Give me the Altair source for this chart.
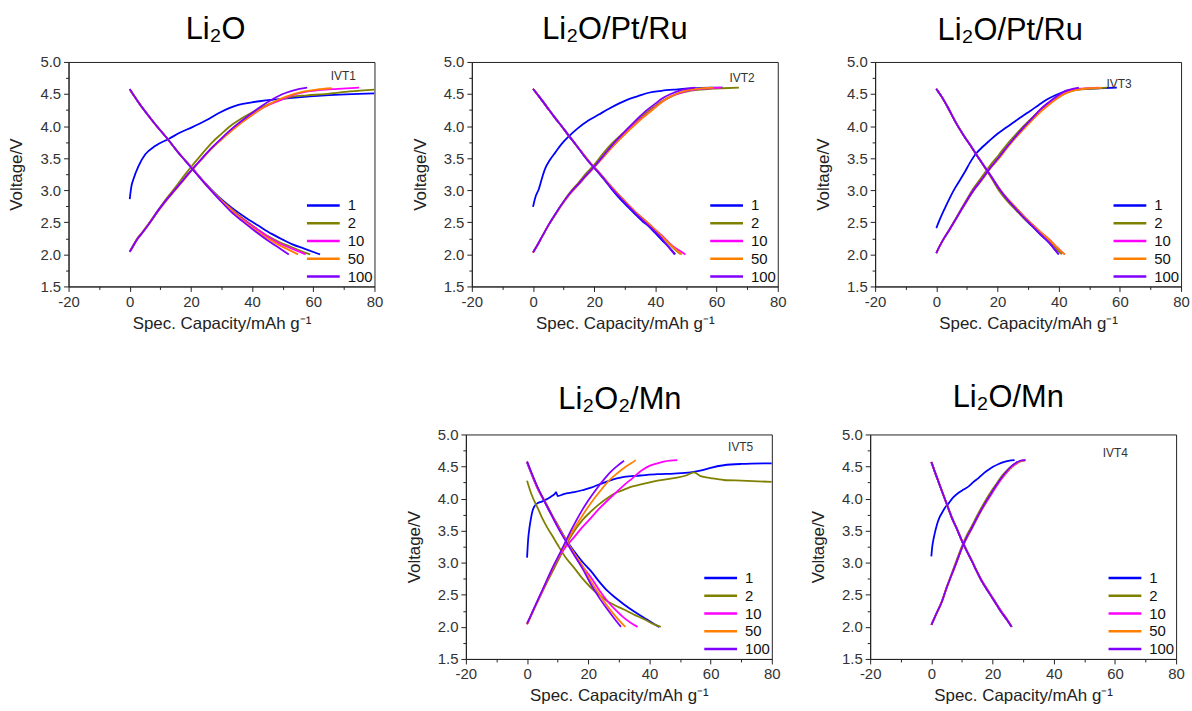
import altair as alt
import pandas as pd

FONT = "Liberation Sans"

CYCLE_LABELS = ["1", "2", "10", "50", "100"]
CYCLE_COLORS = ["#0000FF", "#808000", "#FF00FF", "#FF8000", "#8000FF"]

PANEL_TITLES = ["Li\u2082O", "Li\u2082O/Pt/Ru", "Li\u2082O/Pt/Ru", "Li\u2082O\u2082/Mn", "Li\u2082O/Mn"]
IVT_LABELS = ["IVT1", "IVT2", "IVT3", "IVT5", "IVT4"]
IVT_X = [65.7, 64.2, 55.6, 65.7, 56.0]
IVT_Y = [4.78, 4.75, 4.66, 4.81, 4.71]

X_TICKS = [-20, -10, 0, 10, 20, 30, 40, 50, 60, 70, 80]
Y_TICKS = [1.5, 1.75, 2.0, 2.25, 2.5, 2.75, 3.0, 3.25, 3.5, 3.75, 4.0, 4.25, 4.5, 4.75, 5.0]
X_TITLE = "Spec. Capacity/mAh g\u207b\u00b9"
Y_TITLE = "Voltage/V"

# ---------------- Panel 1: Li2O (IVT1) ----------------
P1_CHG_1 = [(0, 2.86), (0.5, 3.05), (1.2, 3.17), (2.9, 3.38), (5.1, 3.56), (8.3, 3.69), (12.7, 3.80), (16.5, 3.90),
            (20.3, 3.98), (25, 4.09), (29, 4.20), (32.5, 4.28), (35.5, 4.33), (39.9, 4.37), (46.4, 4.41), (53, 4.44),
            (63.9, 4.48), (80, 4.51)]
P1_CHG_2 = [(0, 2.04), (1, 2.13), (2.5, 2.25), (4, 2.34), (6.5, 2.50), (9.4, 2.70), (12, 2.87), (15, 3.05), (18, 3.24),
            (20.5, 3.39), (23.5, 3.56), (26.8, 3.74), (30, 3.88), (33.4, 4.02), (36.5, 4.12), (39.9, 4.21), (43, 4.29),
            (46.4, 4.36), (50, 4.42), (53, 4.46), (58, 4.48), (64, 4.50), (72, 4.54), (80, 4.57)]
P1_CHG_10 = [(0, 2.04), (1, 2.12), (2.5, 2.24), (4, 2.33), (6.5, 2.49), (9.4, 2.69), (12, 2.85), (15, 3.02), (18, 3.19),
             (20.5, 3.33), (23.5, 3.49), (26.8, 3.66), (30, 3.80), (33.4, 3.94), (36.5, 4.06), (39.9, 4.17), (43, 4.27),
             (46.4, 4.35), (50, 4.42), (53, 4.48), (57, 4.53), (62, 4.56), (68, 4.58), (75, 4.60)]
P1_CHG_50 = [(0, 2.04), (1, 2.12), (2.5, 2.24), (4, 2.33), (6.5, 2.49), (9.4, 2.68), (12, 2.84), (15, 3.01), (18, 3.18),
             (20.5, 3.32), (23.5, 3.48), (26.8, 3.65), (30, 3.79), (33.4, 3.93), (36.5, 4.05), (39.9, 4.17), (43, 4.27),
             (46.4, 4.36), (50, 4.44), (53, 4.49), (57, 4.54), (61, 4.57), (66, 4.59)]
P1_CHG_100 = [(0, 2.04), (1, 2.12), (2.5, 2.24), (4, 2.33), (6.5, 2.49), (9.4, 2.69), (12, 2.85), (15, 3.02),
              (18, 3.19), (20.5, 3.33), (23.5, 3.49), (26.8, 3.66), (30, 3.81), (33.4, 3.96), (36.5, 4.08),
              (39.9, 4.20), (43, 4.31), (46.4, 4.41), (50, 4.50), (53, 4.55), (55.5, 4.58), (58, 4.60)]
P1_DIS_1 = [(0, 4.57), (3, 4.36), (6, 4.17), (9, 3.99), (12.2, 3.81), (16, 3.58), (20.3, 3.35), (25, 3.09), (29, 2.90),
            (33, 2.74), (37.7, 2.58), (42, 2.45), (46.4, 2.32), (50, 2.23), (53, 2.16), (57, 2.09), (62.2, 2.00)]
P1_DIS_2 = [(0, 4.57), (3, 4.36), (6, 4.17), (9, 3.99), (12.2, 3.81), (16, 3.58), (20.3, 3.35), (25, 3.09), (29, 2.89),
            (33, 2.72), (37, 2.56), (41, 2.42), (45, 2.29), (49, 2.19), (53, 2.11), (56, 2.05), (59, 2.00)]
P1_DIS_10 = [(0, 4.57), (3, 4.36), (6, 4.17), (9, 3.99), (12.2, 3.81), (16, 3.58), (20.3, 3.35), (25, 3.09), (29, 2.88),
             (33, 2.71), (37, 2.55), (41, 2.41), (45, 2.28), (49, 2.17), (53, 2.09), (57.5, 2.00)]
P1_DIS_50 = [(0, 4.57), (3, 4.36), (6, 4.17), (9, 3.99), (12.2, 3.81), (16, 3.58), (20.3, 3.35), (25, 3.08), (29, 2.88),
             (33, 2.70), (37, 2.53), (41, 2.38), (45, 2.25), (49, 2.14), (52, 2.07), (55, 2.00)]
P1_DIS_100 = [(0, 4.58), (3, 4.36), (6, 4.17), (9, 3.99), (12.2, 3.81), (16, 3.58), (20.3, 3.34), (25, 3.08),
              (29, 2.87), (33, 2.67), (37, 2.51), (41, 2.36), (45, 2.22), (48.5, 2.11), (52, 2.00)]

# ---------------- Panel 2: Li2O/Pt/Ru (IVT2) ----------------
P2_CHG_1 = [(0, 2.74), (0.7, 2.88), (1.9, 3.02), (3, 3.20), (4, 3.34), (5.5, 3.47), (7.3, 3.59), (9.5, 3.73),
            (11.7, 3.84), (14.5, 3.96), (18.2, 4.09), (21.5, 4.18), (24.8, 4.27), (28, 4.35), (31.3, 4.42),
            (34.5, 4.47), (37.8, 4.52), (42, 4.55), (46.6, 4.57), (53, 4.59), (58, 4.60), (62, 4.60)]
P2_CHG_2 = [(0, 2.03), (1.5, 2.15), (3, 2.28), (5.1, 2.46), (7.3, 2.63), (9.5, 2.79), (12, 2.96), (14.9, 3.12),
            (17.5, 3.27), (20.4, 3.42), (23, 3.58), (25.8, 3.73), (28.5, 3.85), (31.3, 3.97), (34, 4.09), (36.7, 4.20),
            (39.5, 4.30), (42.2, 4.39), (45, 4.46), (47.7, 4.51), (50.5, 4.54), (53.1, 4.56), (58, 4.58), (62, 4.59),
            (67.3, 4.60)]
P2_CHG_10 = [(0, 2.03), (1.5, 2.15), (3, 2.28), (5.1, 2.46), (7.3, 2.62), (9.5, 2.78), (12, 2.94), (14.9, 3.09),
             (17.5, 3.23), (20.4, 3.38), (23, 3.52), (25.8, 3.67), (28.5, 3.81), (31.3, 3.94), (34, 4.06), (36.7, 4.17),
             (39.5, 4.28), (42.2, 4.38), (45, 4.46), (47.7, 4.51), (50.5, 4.55), (53.1, 4.57), (58, 4.59),
             (61.6, 4.60)]
P2_CHG_50 = [(0, 2.03), (1.5, 2.15), (3, 2.28), (5.1, 2.46), (7.3, 2.62), (9.5, 2.78), (12, 2.94), (14.9, 3.09),
             (17.5, 3.23), (20.4, 3.38), (23, 3.52), (25.8, 3.67), (28.5, 3.80), (31.3, 3.93), (34, 4.05), (36.7, 4.16),
             (39.5, 4.27), (42.2, 4.38), (45, 4.46), (47.7, 4.52), (50.5, 4.56), (53.1, 4.58), (59, 4.60)]
P2_CHG_100 = [(0, 2.03), (1.5, 2.15), (3, 2.28), (5.1, 2.46), (7.3, 2.63), (9.5, 2.79), (12, 2.95), (14.9, 3.10),
              (17.5, 3.24), (20.4, 3.39), (23, 3.54), (25.8, 3.70), (28.5, 3.84), (31.3, 3.98), (34, 4.11),
              (36.7, 4.23), (40, 4.35), (42.2, 4.43), (45, 4.50), (47.7, 4.55), (50, 4.58), (53, 4.60)]
P2_DIS_1 = [(0, 4.58), (2, 4.46), (4.5, 4.30), (7, 4.14), (9.5, 3.99), (11.7, 3.85), (14, 3.71), (16.5, 3.55),
            (18.5, 3.43), (20.4, 3.33), (23, 3.18), (25.5, 3.03), (28, 2.89), (31, 2.74), (33.5, 2.62), (35.7, 2.52),
            (38, 2.43), (40, 2.33), (42.2, 2.22), (44.5, 2.11), (46.5, 2.00)]
P2_DIS_2 = [(0, 4.58), (2, 4.46), (4.5, 4.30), (7, 4.14), (9.5, 3.99), (11.7, 3.85), (14, 3.71), (16.5, 3.55),
            (18.5, 3.43), (20.4, 3.33), (23, 3.19), (25.5, 3.05), (28, 2.92), (31, 2.77), (33.5, 2.65), (35.7, 2.56),
            (38, 2.46), (40, 2.37), (42.2, 2.27), (44.5, 2.16), (46.5, 2.07), (48.3, 2.00)]
P2_DIS_10 = [(0, 4.58), (2, 4.46), (4.5, 4.30), (7, 4.14), (9.5, 3.99), (11.7, 3.85), (14, 3.71), (16.5, 3.56),
             (18.5, 3.44), (20.4, 3.34), (23, 3.20), (25.5, 3.06), (28, 2.93), (31, 2.78), (33.5, 2.66), (35.7, 2.57),
             (38, 2.47), (40, 2.38), (42.2, 2.29), (44.5, 2.18), (46.5, 2.10), (48.5, 2.04), (49.8, 2.00)]
P2_DIS_50 = [(0, 4.58), (2, 4.46), (4.5, 4.30), (7, 4.14), (9.5, 3.99), (11.7, 3.85), (14, 3.71), (16.5, 3.56),
             (18.5, 3.44), (20.4, 3.34), (23, 3.20), (25.5, 3.06), (28, 2.93), (31, 2.78), (33.5, 2.66), (35.7, 2.57),
             (38, 2.47), (40, 2.38), (42.2, 2.28), (44.5, 2.17), (46.5, 2.08), (48.7, 2.00)]
P2_DIS_100 = [(0, 4.58), (2, 4.46), (4.5, 4.30), (7, 4.14), (9.5, 3.99), (11.7, 3.85), (14, 3.71), (16.5, 3.55),
              (18.5, 3.43), (20.4, 3.33), (23, 3.19), (25.5, 3.04), (28, 2.91), (31, 2.76), (33.5, 2.64),
              (35.7, 2.54), (38, 2.44), (40, 2.35), (42.2, 2.24), (44, 2.13), (46.3, 2.00)]

# ---------------- Panel 3: Li2O/Pt/Ru (IVT3) ----------------
P3_CHG_1 = [(0, 2.41), (1, 2.53), (2.9, 2.73), (4.5, 2.89), (6.2, 3.04), (8, 3.18), (9.5, 3.30), (11, 3.43),
            (12.8, 3.56), (15, 3.67), (17.1, 3.76), (20, 3.88), (22.6, 3.97), (25.3, 4.06), (28, 4.15), (30.8, 4.24),
            (33.5, 4.33), (36, 4.41), (38.9, 4.48), (41.5, 4.53), (44.4, 4.57), (48, 4.58), (53, 4.59), (59, 4.60)]
P3_CHG_2 = [(0, 2.02), (1, 2.12), (2.5, 2.25), (4, 2.37), (6.5, 2.57), (9.5, 2.82), (12, 3.02), (14.9, 3.21),
            (17.5, 3.38), (20.4, 3.55), (23, 3.71), (25.8, 3.86), (28.5, 4.00), (31.3, 4.13), (34, 4.25), (36.7, 4.35),
            (39.5, 4.44), (42.2, 4.51), (44.5, 4.55), (46.6, 4.57), (50, 4.58), (53, 4.59), (55.8, 4.60)]
P3_CHG_10 = [(0, 2.02), (1, 2.12), (2.5, 2.25), (4, 2.36), (6.5, 2.56), (9.5, 2.80), (12, 2.99), (14.9, 3.17),
             (17.5, 3.34), (20.4, 3.50), (23, 3.66), (25.8, 3.82), (28.5, 3.96), (31.3, 4.10), (34, 4.23), (36.7, 4.34),
             (39.5, 4.44), (42.2, 4.52), (44.5, 4.56), (46.6, 4.58), (50, 4.59), (53, 4.60)]
P3_CHG_50 = [(0, 2.02), (1, 2.12), (2.5, 2.25), (4, 2.36), (6.5, 2.56), (9.5, 2.79), (12, 2.98), (14.9, 3.16),
             (17.5, 3.33), (20.4, 3.49), (23, 3.65), (25.8, 3.81), (28.5, 3.95), (31.3, 4.09), (34, 4.22), (36.7, 4.33),
             (39.5, 4.43), (42.2, 4.51), (44.5, 4.55), (46.6, 4.57), (50, 4.59), (54.2, 4.60)]
P3_CHG_100 = [(0, 2.02), (1, 2.12), (2.5, 2.25), (4, 2.36), (6.5, 2.56), (9.5, 2.80), (12, 2.99), (14.9, 3.17),
              (17.5, 3.34), (20.4, 3.51), (23, 3.67), (25.8, 3.83), (28.5, 3.98), (31.3, 4.12), (34, 4.26),
              (36.7, 4.37), (39.5, 4.47), (42.2, 4.55), (44.5, 4.58), (46.6, 4.60)]
P3_DIS_1 = [(0, 4.58), (2, 4.44), (4, 4.27), (6.2, 4.07), (9, 3.85), (11.7, 3.66), (14, 3.49), (16, 3.35), (18, 3.21),
            (20.4, 3.03), (23, 2.86), (25.8, 2.71), (28.5, 2.57), (31.3, 2.44), (34, 2.31), (36.7, 2.19),
            (38.5, 2.09), (40, 2.00)]
P3_DIS_2 = [(0, 4.58), (2, 4.44), (4, 4.27), (6.2, 4.07), (9, 3.85), (11.7, 3.66), (14, 3.49), (16, 3.34), (18, 3.19),
            (20.4, 3.00), (23, 2.84), (25.8, 2.70), (28.5, 2.57), (31.3, 2.45), (34, 2.32), (36.7, 2.21), (39, 2.10),
            (41, 2.00)]
P3_DIS_10 = [(0, 4.58), (2, 4.44), (4, 4.27), (6.2, 4.07), (9, 3.85), (11.7, 3.66), (14, 3.49), (16, 3.35), (18, 3.21),
             (20.4, 3.04), (23, 2.88), (25.8, 2.74), (28.5, 2.60), (31.3, 2.47), (34, 2.35), (36.7, 2.24), (39, 2.13),
             (41, 2.04), (42, 2.00)]
P3_DIS_50 = [(0, 4.58), (2, 4.44), (4, 4.27), (6.2, 4.07), (9, 3.85), (11.7, 3.66), (14, 3.49), (16, 3.35), (18, 3.21),
             (20.4, 3.04), (23, 2.88), (25.8, 2.74), (28.5, 2.60), (31.3, 2.47), (34, 2.35), (36.7, 2.24), (39, 2.13),
             (41, 2.04), (42, 2.00)]
P3_DIS_100 = [(0, 4.58), (2, 4.44), (4, 4.27), (6.2, 4.07), (9, 3.85), (11.7, 3.66), (14, 3.49), (16, 3.35),
              (18, 3.21), (20.4, 3.03), (23, 2.87), (25.8, 2.72), (28.5, 2.58), (31.3, 2.45), (34, 2.32),
              (36.7, 2.19), (38.5, 2.09), (40, 2.00)]

# ---------------- Panel 4: Li2O2/Mn (IVT5) ----------------
P4_CHG_1 = [(0, 3.08), (0.2, 3.25), (0.4, 3.39), (0.8, 3.55), (1.3, 3.70), (1.8, 3.81), (2.4, 3.88), (3.5, 3.93),
            (4.6, 3.95), (6, 3.98), (7.8, 4.03), (9, 4.07), (9.5, 4.10), (10, 4.04), (12, 4.07), (15.4, 4.10),
            (18, 4.13), (20.9, 4.17), (23.5, 4.22), (26.3, 4.27), (29, 4.31), (31.7, 4.34), (37, 4.36), (42.6, 4.38),
            (48, 4.39), (53.5, 4.41), (57, 4.44), (60, 4.48), (64.3, 4.52), (70, 4.54), (80, 4.55)]
P4_CHG_2 = [(0, 2.05), (1.5, 2.20), (3, 2.36), (4.6, 2.51), (7, 2.74), (10, 3.02), (12.5, 3.26), (15.4, 3.49),
            (18, 3.66), (20.9, 3.80), (23.5, 3.91), (26.3, 4.01), (29, 4.09), (31.7, 4.14), (34.5, 4.19), (37.2, 4.22),
            (42.6, 4.28), (48, 4.32), (52, 4.36), (54.6, 4.41), (56.7, 4.35), (60, 4.32), (64.3, 4.29), (70, 4.28),
            (80, 4.26)]
P4_CHG_10 = [(0, 2.04), (2, 2.25), (4, 2.45), (5.7, 2.63), (8, 2.87), (10, 3.06), (12.5, 3.24), (15.4, 3.40),
             (18, 3.55), (20.9, 3.70), (23.5, 3.84), (26.3, 3.97), (29, 4.09), (31.7, 4.21), (34.5, 4.32),
             (37.2, 4.43), (40, 4.51), (42.6, 4.55), (45, 4.58), (49.1, 4.60)]
P4_CHG_50 = [(0, 2.04), (2, 2.25), (4, 2.46), (5.7, 2.64), (8, 2.88), (10, 3.07), (12, 3.25), (14, 3.42), (16, 3.58),
             (18.7, 3.78), (21, 3.94), (24.1, 4.13), (27, 4.29), (29.6, 4.40), (32, 4.49), (34, 4.55), (35.5, 4.60)]
P4_CHG_100 = [(0, 2.05), (2, 2.26), (4, 2.47), (6, 2.68), (8, 2.89), (10, 3.08), (12, 3.27), (14, 3.47), (16, 3.65),
              (18, 3.82), (20, 3.97), (23, 4.17), (25.5, 4.32), (27.4, 4.42), (29.5, 4.51), (31.7, 4.59)]
P4_DIS_1 = [(0, 4.56), (1.5, 4.38), (3, 4.21), (4.6, 4.06), (7, 3.83), (10, 3.59), (12.5, 3.38), (15.4, 3.18),
            (18, 3.02), (20.9, 2.87), (23.5, 2.71), (26.3, 2.56), (29, 2.45), (31.7, 2.35), (35, 2.24), (38.3, 2.14),
            (41, 2.06), (43.2, 2.00)]
P4_DIS_2 = [(0, 4.28), (1.5, 4.06), (3.5, 3.85), (5, 3.69), (6.7, 3.54), (8.5, 3.40), (10, 3.28), (12.5, 3.09),
            (15.4, 2.92), (18, 2.76), (20.9, 2.61), (23.5, 2.50), (26.3, 2.40), (29, 2.33), (31.7, 2.27), (35, 2.19),
            (38.3, 2.12), (41, 2.05), (43.7, 2.00)]
P4_DIS_10 = [(0, 4.57), (2, 4.32), (4, 4.10), (5.7, 3.96), (8, 3.74), (10, 3.56), (12.5, 3.36), (15.4, 3.13),
             (18, 2.95), (20.9, 2.77), (23.5, 2.58), (26.3, 2.40), (29, 2.26), (31.7, 2.14), (34, 2.06), (36.1, 2.00)]
P4_DIS_50 = [(0, 4.57), (2, 4.33), (4, 4.11), (5.7, 3.97), (8, 3.76), (10, 3.58), (12.5, 3.37), (15.4, 3.15),
             (18, 2.96), (20.9, 2.71), (23.5, 2.52), (26.3, 2.32), (29, 2.16), (32.1, 2.00)]
P4_DIS_100 = [(0, 4.58), (2, 4.34), (4, 4.12), (5.7, 3.96), (8, 3.75), (10, 3.56), (12.5, 3.35), (15.4, 3.12),
              (18, 2.92), (20.9, 2.66), (23.5, 2.46), (26.3, 2.27), (28.5, 2.13), (30.7, 2.00)]

# ---------------- Panel 5: Li2O/Mn (IVT4) ----------------
P5_CHG_1 = [(0, 3.10), (0.3, 3.25), (0.8, 3.39), (1.8, 3.59), (2.6, 3.70), (3.5, 3.78), (4.5, 3.86), (5.7, 3.93),
            (7, 4.01), (8.9, 4.09), (10.5, 4.14), (12.2, 4.19), (13.8, 4.26), (15.4, 4.32), (17, 4.39), (18.7, 4.45),
            (20.3, 4.50), (22, 4.54), (23.6, 4.57), (25.2, 4.59), (27.2, 4.60)]
P5_CHG_2 = [(0, 2.03), (1.5, 2.19), (3.5, 2.41), (5, 2.62), (6.7, 2.84), (8.4, 3.06), (10, 3.26), (11.6, 3.43),
            (13.3, 3.58), (14.9, 3.73), (16.5, 3.87), (18.2, 4.01), (19.8, 4.13), (21.4, 4.24), (23, 4.35),
            (24.7, 4.44), (26.3, 4.51), (27.7, 4.55), (29, 4.58), (30.9, 4.60)]
P5_CHG_10 = [(0, 2.03), (1.5, 2.19), (3.5, 2.40), (5, 2.61), (6.7, 2.82), (8.4, 3.03), (10, 3.23), (11.6, 3.39),
             (13.3, 3.54), (14.9, 3.69), (16.5, 3.83), (18.2, 3.96), (19.8, 4.08), (21.4, 4.20), (23, 4.31),
             (24.7, 4.41), (26.3, 4.49), (27.7, 4.54), (29, 4.58), (30.9, 4.60)]
P5_CHG_50 = [(0, 2.03), (1.5, 2.19), (3.5, 2.40), (5, 2.61), (6.7, 2.82), (8.4, 3.03), (10, 3.23), (11.6, 3.39),
             (13.3, 3.54), (14.9, 3.69), (16.5, 3.83), (18.2, 3.97), (19.8, 4.09), (21.4, 4.21), (23, 4.32),
             (24.7, 4.42), (26.3, 4.50), (27.7, 4.55), (29, 4.58), (30.9, 4.60)]
P5_CHG_100 = [(0, 2.03), (1.5, 2.19), (3.5, 2.40), (5, 2.61), (6.7, 2.82), (8.4, 3.03), (10, 3.23), (11.6, 3.40),
              (13.3, 3.55), (14.9, 3.70), (16.5, 3.84), (18.2, 3.98), (19.8, 4.10), (21.4, 4.22), (23, 4.33),
              (24.7, 4.43), (26.3, 4.51), (27.7, 4.56), (29, 4.59), (30.6, 4.60)]
P5_DIS_1 = [(0, 4.57), (1.5, 4.37), (3.5, 4.11), (5, 3.92), (6.7, 3.70), (8.4, 3.52), (10, 3.34), (11.6, 3.18),
            (13.3, 3.02), (14.9, 2.86), (16.5, 2.71), (18.2, 2.58), (19.8, 2.46), (21.4, 2.34), (23, 2.22),
            (24.7, 2.11), (26.2, 2.00)]
P5_DIS_2 = [(0, 4.57), (1.5, 4.37), (3.5, 4.11), (5, 3.92), (6.7, 3.71), (8.4, 3.53), (10, 3.35), (11.6, 3.19),
            (13.3, 3.03), (14.9, 2.87), (16.5, 2.72), (18.2, 2.59), (19.8, 2.47), (21.4, 2.35), (23, 2.23),
            (24.7, 2.12), (26.3, 2.00)]
P5_DIS_10 = [(0, 4.57), (1.5, 4.37), (3.5, 4.11), (5, 3.92), (6.7, 3.70), (8.4, 3.52), (10, 3.34), (11.6, 3.18),
             (13.3, 3.02), (14.9, 2.86), (16.5, 2.72), (18.2, 2.59), (19.8, 2.47), (21.4, 2.35), (23, 2.23),
             (24.7, 2.12), (26.3, 2.00)]
P5_DIS_50 = [(0, 4.57), (1.5, 4.37), (3.5, 4.11), (5, 3.92), (6.7, 3.70), (8.4, 3.52), (10, 3.34), (11.6, 3.18),
             (13.3, 3.02), (14.9, 2.86), (16.5, 2.71), (18.2, 2.58), (19.8, 2.46), (21.4, 2.34), (23, 2.22),
             (24.7, 2.11), (26.3, 2.00)]
P5_DIS_100 = [(0, 4.57), (1.5, 4.37), (3.5, 4.11), (5, 3.92), (6.7, 3.70), (8.4, 3.52), (10, 3.34), (11.6, 3.18),
              (13.3, 3.02), (14.9, 2.86), (16.5, 2.71), (18.2, 2.58), (19.8, 2.46), (21.4, 2.34), (23, 2.22),
              (24.7, 2.11), (26.2, 2.00)]

PANEL_CURVES = [
    [P1_CHG_1, P1_DIS_1, P1_CHG_2, P1_DIS_2, P1_CHG_10, P1_DIS_10, P1_CHG_50, P1_DIS_50, P1_CHG_100, P1_DIS_100],
    [P2_CHG_1, P2_DIS_1, P2_CHG_2, P2_DIS_2, P2_CHG_10, P2_DIS_10, P2_CHG_50, P2_DIS_50, P2_CHG_100, P2_DIS_100],
    [P3_CHG_1, P3_DIS_1, P3_CHG_2, P3_DIS_2, P3_CHG_10, P3_DIS_10, P3_CHG_50, P3_DIS_50, P3_CHG_100, P3_DIS_100],
    [P4_CHG_1, P4_DIS_1, P4_CHG_2, P4_DIS_2, P4_CHG_10, P4_DIS_10, P4_CHG_50, P4_DIS_50, P4_CHG_100, P4_DIS_100],
    [P5_CHG_1, P5_DIS_1, P5_CHG_2, P5_DIS_2, P5_CHG_10, P5_DIS_10, P5_CHG_50, P5_DIS_50, P5_CHG_100, P5_DIS_100],
]

# layout / style (not data)
PANEL_W = 308
PANEL_H = 226
TITLE_OFFSETS = [9, 9, 8, 12, 14]
TITLE_DX = [-6, -10, -18, 1, -15]

MINOR_Y = "abs(datum.value * 2 - round(datum.value * 2)) > 0.001"
MINOR_X = "datum.value % 20 !== 0"


def panel_frame(curves):
    rows = []
    for k, pts in enumerate(curves):
        cyc = CYCLE_LABELS[k // 2]
        branch = "charge" if k % 2 == 0 else "discharge"
        for i, (x, y) in enumerate(pts):
            rows.append({"cycle": cyc, "curve": f"{cyc}-{branch}", "idx": i, "x": x, "y": y})
    return pd.DataFrame(rows)


def axes():
    x_axis = alt.Axis(
        values=X_TICKS, title=X_TITLE,
        labelExpr="datum.value % 20 === 0 ? '' + datum.value : ''",
        tickDash={"condition": {"test": MINOR_X, "value": [3, 10]}, "value": [10, 0]},
        labelFontSize=15, tickSize=5, labelPadding=3, titlePadding=6, labelFlush=False, labelOverlap=False,
    )
    y_axis = alt.Axis(
        values=Y_TICKS, title=Y_TITLE,
        labelExpr="(" + MINOR_Y + ") ? '' : format(datum.value, '.1f')",
        labelFontSize={"condition": {"test": MINOR_Y, "value": 1}, "value": 15},
        tickDash={"condition": {"test": MINOR_Y, "value": [3, 10]}, "value": [10, 0]},
        tickSize=5, labelPadding=3, titlePadding=14, labelFlush=False, labelOverlap=False,
    )
    return x_axis, y_axis


def make_panel(p):
    df = panel_frame(PANEL_CURVES[p])
    xs = alt.Scale(domain=[-20, 80], nice=False, zero=False)
    ys = alt.Scale(domain=[1.5, 5.0], nice=False, zero=False)
    x_axis, y_axis = axes()
    lines = alt.Chart(df).mark_line(strokeWidth=1.8, clip=True, interpolate="monotone").encode(
        x=alt.X("x:Q", scale=xs, axis=x_axis),
        y=alt.Y("y:Q", scale=ys, axis=y_axis),
        color=alt.Color(
            "cycle:N",
            scale=alt.Scale(domain=CYCLE_LABELS, range=CYCLE_COLORS),
            sort=CYCLE_LABELS,
            legend=alt.Legend(
                title=None, orient="bottom-right", offset=1, padding=0,
                symbolType="M-8.25,0H8.25", symbolSize=16, symbolStrokeWidth=2.5,
                labelOffset=17, labelFontSize=15, labelFont=FONT, labelColor="#111",
                rowPadding=1.9,
            ),
        ),
        detail="curve:N",
        order="idx:Q",
    )
    x_axis2, y_axis2 = axes()
    ivt = alt.Chart(pd.DataFrame({"t": [IVT_LABELS[p]], "x": [IVT_X[p]], "y": [IVT_Y[p]]})).mark_text(
        align="left", baseline="middle", fontSize=12, font=FONT, color="#333"
    ).encode(x=alt.X("x:Q", scale=xs, axis=x_axis2), y=alt.Y("y:Q", scale=ys, axis=y_axis2), text="t:N")
    return alt.layer(lines, ivt).properties(
        width=PANEL_W, height=PANEL_H,
        title=alt.TitleParams(
            PANEL_TITLES[p], fontSize=31, font=FONT, fontWeight="normal", color="#000",
            anchor="middle", frame="group", offset=TITLE_OFFSETS[p], dx=TITLE_DX[p],
        ),
    )


spacer = alt.Chart(pd.DataFrame({"v": [0]})).mark_point(opacity=0).encode(
    x=alt.X("v:Q", axis=None), y=alt.Y("v:Q", axis=None)
).properties(width=309, height=10, view=alt.ViewBackground(stroke="transparent"))

top_row = alt.hconcat(make_panel(0), make_panel(1), make_panel(2), spacing=27).resolve_legend(color="independent")
bottom_row = alt.hconcat(spacer, make_panel(3), make_panel(4), spacing=28).resolve_legend(color="independent")

chart = alt.vconcat(top_row, bottom_row, spacing=49).resolve_legend(color="independent").properties(
    padding={"left": 7, "top": 11, "right": 2, "bottom": 0}, background="white"
).configure_view(stroke="#222", strokeWidth=1).configure_axis(
    grid=False, domainColor="#222", tickColor="#222", domainWidth=1, tickWidth=1,
    labelFont=FONT, labelColor="#333",
    titleFont=FONT, titleFontSize=17, titleFontWeight="normal", titleColor="#222",
)

chart.save("out.html", embed_options={"renderer": "svg", "actions": False})
